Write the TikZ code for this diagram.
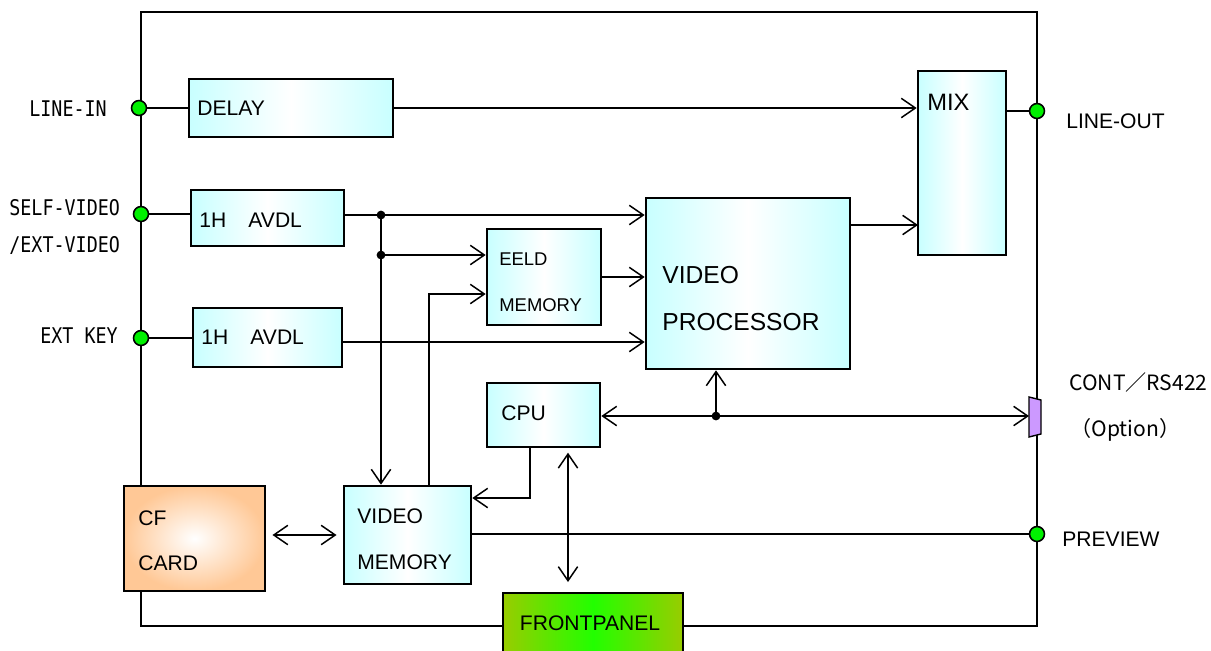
\documentclass[tikz,border=0pt]{standalone}
\usepackage{fontspec}
\setmainfont{Liberation Sans}
\newfontfamily\monof[FakeStretch=0.85]{DejaVu Sans Mono}
\newfontfamily\jpf{Noto Sans CJK JP}
\usetikzlibrary{arrows.meta,fit}
\definecolor{lcyan}{HTML}{C8FFFF}
\definecolor{lorange}{HTML}{FFC896}
\definecolor{dgreen}{HTML}{99CC00}
\definecolor{bgreen}{HTML}{22FF00}
\definecolor{pgreen}{HTML}{00F000}
\definecolor{purp}{HTML}{CC99FF}
\tikzset{
  cbox/.style={draw, line width=1.5pt, inner sep=0pt, left color=lcyan, right color=lcyan, middle color=white},
  obox/.style={draw, line width=1.5pt, inner sep=0pt, inner color=white, outer color=lorange},
  gbox/.style={draw, line width=1.5pt, inner sep=0pt, left color=dgreen, right color=dgreen, middle color=bgreen},
  txt/.style={inner sep=0pt, anchor=west, font=\fontsize{12}{14}\selectfont},
  mtxt/.style={inner sep=0pt, anchor=west, font=\monof\fontsize{12.3}{14}\selectfont},
  ln/.style={line width=0.85pt},
  arr/.style={line width=0.85pt, -{Straight Barb[length=8pt,width=11pt,line width=0.85pt]}},
  darr/.style={line width=0.85pt, {Straight Barb[length=8pt,width=11pt,line width=0.85pt]}-{Straight Barb[length=8pt,width=11pt,line width=0.85pt]}},
  port/.style={circle, draw, fill=pgreen, line width=0.9pt, minimum size=8.5pt, inner sep=0pt},
  dot/.style={circle, fill=black, minimum size=5pt, inner sep=0pt}
}
\begin{document}
\begin{tikzpicture}[x=0.02cm,y=-0.02cm]
\clip (0,0) rectangle (1211,650);
\fill[white] (0,0) rectangle (1211,650);
% frame
\node[draw, line width=1.1pt, inner sep=0pt, fit={(141,12) (1037,626)}] (frame) {};
% blocks
\node[cbox, fit={(189,79) (393,137)}] (delay) {};
\node[cbox, fit={(191,190) (344,246)}] (avdla) {};
\node[cbox, fit={(193,308) (342,367)}] (avdlb) {};
\node[cbox, fit={(487,229) (601,325)}] (eeld) {};
\node[cbox, fit={(646,198) (850,369)}] (vp) {};
\node[cbox, fit={(918,71) (1006,255)}] (mix) {};
\node[cbox, fit={(487,383) (600,447)}] (cpu) {};
\node[cbox, fit={(344,486) (471,584)}] (vmem) {};
\node[obox, fit={(124,486) (265,591)}] (cf) {};
\node[gbox, fit={(503,593) (683,660)}] (fp) {};
% connector RS422
\filldraw[fill=purp, line width=0.8pt] (1029,397) -- (1041,400) -- (1041,434) -- (1029,437) -- cycle;
\coordinate (cont) at (1029,416);
% ports
\node[port] (li) at (139,108) {};
\node[port] (sv) at (141,214) {};
\node[port] (ek) at (141,338) {};
\node[port] (lo) at (1037,111) {};
\node[port] (pv) at (1037,534) {};
% junctions
\coordinate (j1) at (381,215);
\coordinate (j2) at (381,255);
\coordinate (j3) at (716,416);
\coordinate (c1) at (429,294);
\coordinate (c2) at (530,498);
\coordinate (c3) at (568,450);
\coordinate (m2) at (918,225);
\coordinate (a2) at (0,342);
% connectors
\draw[ln] (li) -- (li -| delay.west);
\draw[arr] (delay.east) -- (delay.east -| mix.west);
\draw[ln] (lo -| mix.east) -- (lo);
\draw[ln] (sv) -- (sv -| avdla.west);
\draw[arr] (avdla.east |- j1) -- (j1 -| vp.west);
\draw[arr] (j1) -- (j1 |- vmem.north);
\draw[arr] (j2) -- (j2 -| eeld.west);
\draw[arr] (c1 |- vmem.north) -- (c1) -- (c1 -| eeld.west);
\draw[arr] (eeld.east) -- (eeld.east -| vp.west);
\draw[ln] (ek) -- (ek -| avdlb.west);
\draw[arr] (a2 -| avdlb.east) -- (a2 -| vp.west);
\draw[arr] (m2 -| vp.east) -- (m2);
\draw[darr] (j3 -| cpu.east) -- (cont);
\draw[arr] (j3) -- (j3 |- vp.south);
\draw[arr] (c2 |- cpu.south) -- (c2) -- (c2 -| vmem.east);
\draw[darr, shorten <=2.5pt, shorten >=5.5pt] (c3 |- cpu.south) -- (c3 |- fp.north);
\draw[darr, shorten <=3.5pt, shorten >=3.5pt] (cf.east |- vmem) -- (vmem.west);
\draw[ln] (vmem.east |- pv) -- (pv);
\node[dot] (d1) at (j1) {};
\node[dot] (d2) at (j2) {};
\node[dot] (d3) at (j3) {};
% texts
\node[txt] at (197,108) {DELAY};
\node[txt] at (199,220) {1H\hspace{1.05em}AVDL};
\node[txt] at (201,337) {1H\hspace{1.05em}AVDL};
\node[txt, font=\fontsize{10.5}{12}\selectfont] at (499,259) {EELD};
\node[txt, font=\fontsize{10.5}{12}\selectfont] at (499,305) {MEMORY};
\node[txt, font=\fontsize{14}{16}\selectfont] at (662,275) {VIDEO};
\node[txt, font=\fontsize{14}{16}\selectfont] at (662,322) {PROCESSOR};
\node[txt, font=\fontsize{13.5}{16}\selectfont] at (927,102) {MIX};
\node[txt] at (501,413) {CPU};
\node[txt] at (357,516) {VIDEO};
\node[txt] at (357,562) {MEMORY};
\node[txt] at (138,518) {CF};
\node[txt] at (138,563) {CARD};
\node[txt, anchor=center] at (590,623) {FRONTPANEL};
\node[txt] at (1066,121) {LINE-OUT};
\node[txt] at (1062,539) {PREVIEW};
\node[txt, font=\jpf\fontsize{12}{14}\selectfont] at (1069,382) {CONT／RS422};
\node[txt, font=\jpf\fontsize{12}{14}\selectfont] at (1070,430) {（Option）};
\node[mtxt] at (29,109) {LINE-IN};
\node[mtxt] at (9,208) {SELF-VIDEO};
\node[mtxt] at (9,245) {/EXT-VIDEO};
\node[mtxt] at (40,336) {EXT KEY};
\end{tikzpicture}
\end{document}
